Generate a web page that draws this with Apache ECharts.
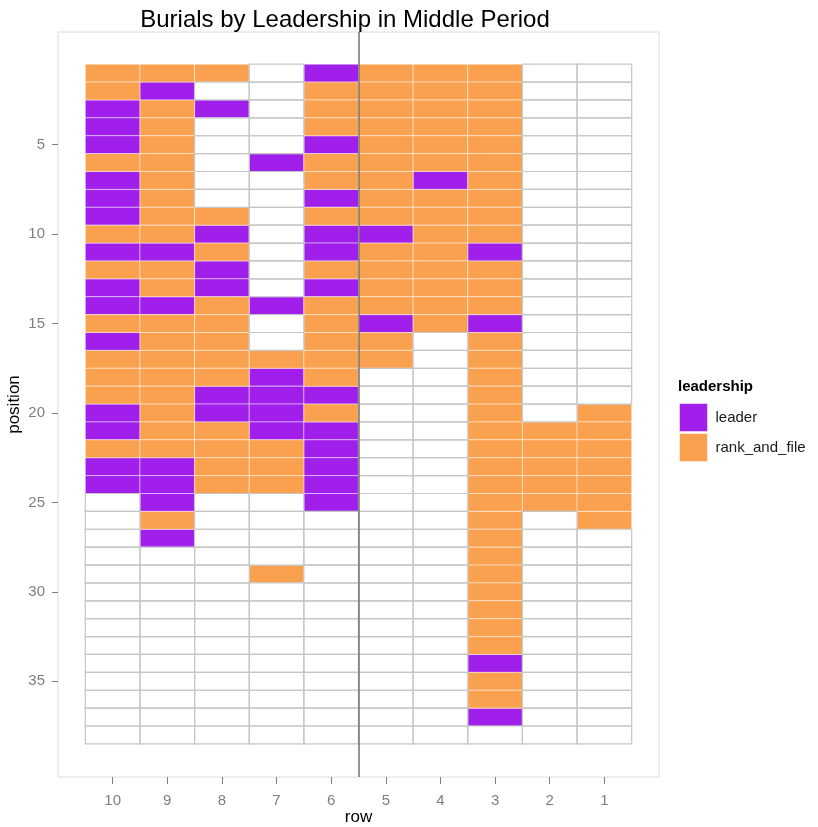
<!DOCTYPE html>
<html>
<head>
<meta charset="utf-8">
<script src="https://cdn.jsdelivr.net/npm/echarts@6/dist/echarts.min.js"></script>
<style>
  html, body { margin: 0; padding: 0; background: #fff; }
  #chart { width: 818px; height: 827px; }
</style>
</head>
<body>
<div id="chart"></div>
<script>
// burial rows (x axis), shown left to right as 10 .. 1
const rows = [10, 9, 8, 7, 6, 5, 4, 3, 2, 1];
// one code string per row, position 1..38: L = leader, R = rank_and_file, - = empty
const row10 = 'RRLLLRLLLRLRLLRLRRRLLRLL--------------';
const row9  = 'RLRRRRRRRRLRRLRRRRRRRRLLLRL-----------';
const row8  = 'R-L-----RLRLLRRRRRLLRRRR--------------';
const row7  = '-----L-------L--RLLLLRRR----R---------';
const row6  = 'LRRRLRRLRLLRLRRRRRLRLLLLL-------------';
const row5  = 'RRRRRRRRRLRRRRLRR---------------------';
const row4  = 'RRRRRRLRRRRRRRR-----------------------';
const row3  = 'RRRRRRRRRR' + 'LRRRL' + 'RRRRRRRRRRRRRRRRRR' + 'LRRL-';
const row2  = '--------------------RRRRR-------------';
const row1  = '-------------------RRRRRRR------------';
const rowCodes = [row10, row9, row8, row7, row6, row5, row4, row3, row2, row1];
const positionCount = 38;
const positionTicks = [5, 10, 15, 20, 25, 30, 35];
const divider = 5.5;

const PURPLE = '#A01FEB';
const ORANGE = '#FAA150';

// split cells into the three groups
const leaderCells = [];
const rankCells = [];
const emptyCells = [];
rows.forEach((r, i) => {
  const codes = rowCodes[i];
  for (let p = 1; p <= positionCount; p++) {
    const c = codes.charAt(p - 1) || '-';
    if (c === 'L') leaderCells.push([r, p]);
    else if (c === 'R') rankCells.push([r, p]);
    else emptyCells.push([r, p]);
  }
});

function tile(fill, stroke, width) {
  return function (params, api) {
    const x = api.value(0), y = api.value(1);
    const a = api.coord([x - 0.5, y - 0.5]);
    const b = api.coord([x + 0.5, y + 0.5]);
    return {
      type: 'rect',
      shape: {
        x: Math.min(a[0], b[0]),
        y: Math.min(a[1], b[1]),
        width: Math.abs(b[0] - a[0]),
        height: Math.abs(b[1] - a[1])
      },
      style: { fill: fill, stroke: stroke, lineWidth: width }
    };
  };
}

const chart = echarts.init(document.getElementById('chart'), null, { renderer: 'canvas' });
const font = '"Liberation Sans", Arial, Helvetica, sans-serif';

chart.setOption({
  backgroundColor: '#fff',
  animation: false,
  textStyle: { fontFamily: font },
  title: [{
    text: 'Burials by Leadership in Middle Period',
    left: 340,
    top: 3,
    textAlign: 'center',
    textStyle: { fontFamily: font, fontSize: 24, fontWeight: 'normal', color: '#000' }
  }, {
    text: 'leadership',
    left: 673,
    top: 374,
    textStyle: { fontFamily: font, fontSize: 15, fontWeight: 'bold', color: '#000' }
  }],
  legend: {
    data: ['leader', 'rank_and_file'],
    orient: 'vertical',
    left: 674,
    top: 398,
    itemWidth: 28,
    itemHeight: 28,
    itemGap: 1,
    icon: 'rect',
    itemStyle: { borderColor: 'rgba(255,255,255,0.5)', borderWidth: 1 },
    textStyle: { fontFamily: font, fontSize: 15, color: '#1a1a1a', padding: [0, 0, 0, 3] }
  },
  grid: {
    left: 58,
    right: 159,
    top: 32,
    bottom: 50,
    outerBoundsMode: 'none',
    containLabel: false,
    show: true,
    borderColor: '#dcdcdc',
    borderWidth: 1,
    backgroundColor: '#fff'
  },
  xAxis: {
    type: 'value',
    inverse: true,
    min: 0,
    max: 11,
    interval: 1,
    name: 'row',
    nameLocation: 'middle',
    nameGap: 32,
    nameMoveOverlap: false,
    nameTextStyle: { fontFamily: font, fontSize: 17, color: '#000' },
    axisLine: { show: false, onZero: false },
    splitLine: { show: false },
    axisTick: {
      show: true,
      inside: false,
      length: 7,
      customValues: rows,
      lineStyle: { color: '#7f7f7f', width: 1 }
    },
    axisLabel: {
      customValues: rows,
      margin: 16,
      fontFamily: font,
      fontSize: 15,
      color: '#7f7f7f'
    }
  },
  yAxis: {
    type: 'value',
    inverse: true,
    min: -1.3,
    max: 40.35,
    name: 'position',
    nameLocation: 'middle',
    nameGap: 35,
    nameMoveOverlap: false,
    nameRotate: 90,
    nameTextStyle: { fontFamily: font, fontSize: 17, color: '#000' },
    axisLine: { show: false, onZero: false },
    splitLine: { show: false },
    axisTick: {
      show: true,
      inside: false,
      length: 6,
      customValues: positionTicks,
      lineStyle: { color: '#7f7f7f', width: 1 }
    },
    axisLabel: {
      customValues: positionTicks,
      margin: 13,
      fontFamily: font,
      fontSize: 15,
      color: '#7f7f7f'
    }
  },
  series: [{
    name: 'leader',
    type: 'custom',
    itemStyle: { color: PURPLE },
    renderItem: tile(PURPLE, 'rgba(255,255,255,0.45)', 1),
    data: leaderCells,
    silent: true
  }, {
    name: 'rank_and_file',
    type: 'custom',
    itemStyle: { color: ORANGE },
    renderItem: tile(ORANGE, 'rgba(255,255,255,0.45)', 1),
    data: rankCells,
    silent: true
  }, {
    name: 'empty',
    type: 'custom',
    renderItem: tile('rgba(255,255,255,0)', '#c6c6c6', 1.2),
    data: emptyCells,
    silent: true,
    markLine: {
      silent: true,
      symbol: ['none', 'none'],
      label: { show: false },
      lineStyle: { color: '#7a7a7a', width: 1.6, type: 'solid' },
      data: [{ xAxis: divider }]
    }
  }]
});
</script>
</body>
</html>
